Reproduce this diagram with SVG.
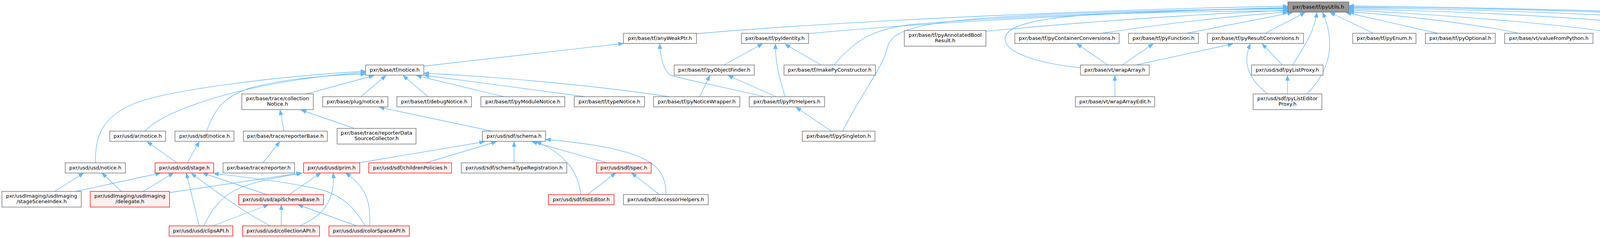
<svg xmlns="http://www.w3.org/2000/svg" width="5168" height="608" viewBox="0 0 5168 608">
<style>
.n rect{fill:#ffffff;stroke:#666666;stroke-width:1.33}
.r rect{fill:#fff0f0;stroke:#ff0000;stroke-width:1.33}
.root rect{fill:#999999;stroke:#666666;stroke-width:1.33}
text{font-family:"DejaVu Sans","Liberation Sans",sans-serif;font-size:13px;text-anchor:middle;fill:#000000}
.e path{fill:none;stroke:#63b8ff;stroke-width:1.33;marker-end:url(#ah)}
</style>
<defs>
<marker id="ah" markerUnits="userSpaceOnUse" markerWidth="14" markerHeight="12" refX="13" refY="5.5" orient="auto">
<path d="M0,0.5 L13,5.5 L0,10.5 z" fill="#63b8ff" stroke="#63b8ff" stroke-width="1"/>
</marker>
</defs>
<rect x="0" y="0" width="5168" height="608" fill="#ffffff"/>
<g class="e" id="edges">
<path d="M1783,86 C2200,50 2900,22 3297,16"/>
<path d="M2068,86 C2400,55 2900,30 3297,19"/>
<path d="M2135,166 C2190,100 2240,72 2340,62 C2600,40 3000,26 3297,21"/>
<path d="M2157,335 C2210,230 2262,170 2272,120 C2285,65 2400,50 2700,36 C2950,26 3150,23 3297,23"/>
<path d="M2524,80 C2850,48 3150,33 3297,26"/>
<path d="M2766,173 C2640,160 2573,130 2573,100 C2573,60 2680,45 2800,37 C3000,30 3200,28 3297,28"/>
<path d="M2821,85 C2950,65 3150,40 3297,31"/>
<path d="M3038,85 L3309,32"/>
<path d="M3239,85 L3341,32"/>
<path d="M3309,166 C3345,110 3366,75 3371,32"/>
<path d="M3346,240 C3405,180 3420,110 3386,32"/>
<path d="M3516,85 L3405,32"/>
<path d="M3680,85 L3446,32"/>
<path d="M3887,85 C3800,65 3600,40 3453,30"/>
<path d="M4135,85 C4050,68 3750,40 3453,26"/>
<path d="M4377,85 C4200,50 3800,30 3453,23"/>
<path d="M4603,85 C4400,45 3900,25 3453,20"/>
<path d="M4805,85 C4650,45 4000,22 3453,18"/>
<path d="M5034,85 C4960,60 4300,25 3453,15"/>
<path d="M1853,166 L1952,112"/>
<path d="M2102,166 L2010,113"/>
<path d="M2010,247 C1995,200 1985,160 1985,112"/>
<path d="M1791,247 L1817,193"/>
<path d="M1987,247 L1864,193"/>
<path d="M1085,169 L1596,111"/>
<path d="M1957,247 C1850,222 1760,205 1716,192 C1700,180 1690,150 1689,112"/>
<path d="M2128,335 L2038,274"/>
<path d="M2854,247 L2854,193"/>
<path d="M2836,166 L2757,112"/>
<path d="M2873,166 L2952,112"/>
<path d="M2908,166 L3156,112"/>
<path d="M3283,166 L3231,112"/>
<path d="M3245,240 C3195,200 3180,160 3201,112"/>
<path d="M3296,240 L3296,193"/>
<path d="M244,416 C244,345 262,300 340,266 C420,232 700,195 936,182"/>
<path d="M371,335 C420,280 640,205 936,185"/>
<path d="M529,335 C548,280 575,245 640,225 C720,202 840,192 936,189"/>
<path d="M784,240 L957,193"/>
<path d="M924,247 L988,193"/>
<path d="M1096,247 L1032,193"/>
<path d="M1290,247 L1066,193"/>
<path d="M1498,247 L1085,192"/>
<path d="M1713,247 C1500,215 1250,195 1085,187"/>
<path d="M1260,335 L971,274"/>
<path d="M727,335 L717,281"/>
<path d="M907,328 L771,281"/>
<path d="M673,416 L716,362"/>
<path d="M453,416 L377,362"/>
<path d="M480,416 L510,362"/>
<path d="M140,489 L214,442"/>
<path d="M311,489 L261,442"/>
<path d="M194,489 L411,442"/>
<path d="M366,489 L444,442"/>
<path d="M510,577 L477,442"/>
<path d="M692,577 C640,550 580,510 490,443"/>
<path d="M683,497 L519,442"/>
<path d="M935,577 C910,535 880,500 820,484 C720,462 620,452 547,443"/>
<path d="M434,492 L771,442"/>
<path d="M522,577 C540,535 570,500 610,482 C660,460 720,452 774,442"/>
<path d="M740,497 L821,442"/>
<path d="M767,577 C830,550 858,510 853,442"/>
<path d="M946,577 C950,520 940,480 885,442"/>
<path d="M545,577 L687,523"/>
<path d="M720,577 L720,523"/>
<path d="M913,577 L763,523"/>
<path d="M918,416 L1240,362"/>
<path d="M1090,416 L1271,362"/>
<path d="M1316,416 L1316,362"/>
<path d="M1554,416 L1362,362"/>
<path d="M1487,497 C1480,440 1450,395 1373,362"/>
<path d="M1705,497 C1705,420 1660,380 1397,356"/>
<path d="M1504,497 L1576,442"/>
<path d="M1688,497 L1617,442"/>
</g>
<g id="n0" class="root"><rect x="3297" y="5" width="156" height="26"/><text x="3375" y="21.5">pxr/base/tf/pyUtils.h</text></g>
<g id="n1" class="n"><rect x="1596" y="85" width="187" height="26"/><text x="1689.5" y="101.5">pxr/base/tf/anyWeakPtr.h</text></g>
<g id="n2" class="n"><rect x="1898" y="85" width="172" height="26"/><text x="1984" y="101.5">pxr/base/tf/pyIdentity.h</text></g>
<g id="n3" class="n"><rect x="2315" y="78" width="209" height="40"/><text x="2419.5" y="93.5">pxr/base/tf/pyAnnotatedBool</text><text x="2419.5" y="108">Result.h</text></g>
<g id="n4" class="n"><rect x="2598" y="85" width="267" height="26"/><text x="2731.5" y="101.5">pxr/base/tf/pyContainerConversions.h</text></g>
<g id="n5" class="n"><rect x="2889" y="85" width="179" height="26"/><text x="2978.5" y="101.5">pxr/base/tf/pyFunction.h</text></g>
<g id="n6" class="n"><rect x="3091" y="85" width="246" height="26"/><text x="3214" y="101.5">pxr/base/tf/pyResultConversions.h</text></g>
<g id="n7" class="n"><rect x="3463" y="85" width="162" height="26"/><text x="3544" y="101.5">pxr/base/tf/pyEnum.h</text></g>
<g id="n8" class="n"><rect x="3649" y="85" width="179" height="26"/><text x="3738.5" y="101.5">pxr/base/tf/pyOptional.h</text></g>
<g id="n9" class="n"><rect x="3852" y="85" width="226" height="26"/><text x="3965" y="101.5">pxr/base/vt/valueFromPython.h</text></g>
<g id="n10" class="n"><rect x="4101" y="85" width="216" height="26"/><text x="4209" y="101.5">pxr/usd/sdf/pyChildrenProxy.h</text></g>
<g id="n11" class="n"><rect x="4340" y="85" width="212" height="26"/><text x="4446" y="101.5">pxr/usd/sdf/pyChildrenView.h</text></g>
<g id="n12" class="n"><rect x="4575" y="85" width="167" height="26"/><text x="4658.5" y="101.5">pxr/usd/sdf/pyListOp.h</text></g>
<g id="n13" class="n"><rect x="4765" y="85" width="215" height="26"/><text x="4872.5" y="101.5">pxr/usd/sdf/pyMapEditProxy.h</text></g>
<g id="n14" class="n"><rect x="5004" y="85" width="159" height="26"/><text x="5083.5" y="101.5">pxr/usd/sdf/pySpec.h</text></g>
<g id="n15" class="n"><rect x="936" y="166" width="149" height="26"/><text x="1010.5" y="182.5">pxr/base/tf/notice.h</text></g>
<g id="n16" class="n"><rect x="1726" y="166" width="205" height="26"/><text x="1828.5" y="182.5">pxr/base/tf/pyObjectFinder.h</text></g>
<g id="n17" class="n"><rect x="2007" y="166" width="234" height="26"/><text x="2124" y="182.5">pxr/base/tf/makePyConstructor.h</text></g>
<g id="n18" class="n"><rect x="2766" y="166" width="176" height="26"/><text x="2854" y="182.5">pxr/base/vt/wrapArray.h</text></g>
<g id="n19" class="n"><rect x="3204" y="166" width="183" height="26"/><text x="3295.5" y="182.5">pxr/usd/sdf/pyListProxy.h</text></g>
<g id="n20" class="n"><rect x="619" y="240" width="183" height="40"/><text x="710.5" y="255.5">pxr/base/trace/collection</text><text x="710.5" y="270">Notice.h</text></g>
<g id="n21" class="n"><rect x="826" y="247" width="167" height="26"/><text x="909.5" y="263.5">pxr/base/plug/notice.h</text></g>
<g id="n22" class="n"><rect x="1016" y="247" width="191" height="26"/><text x="1111.5" y="263.5">pxr/base/tf/debugNotice.h</text></g>
<g id="n23" class="n"><rect x="1231" y="247" width="215" height="26"/><text x="1338.5" y="263.5">pxr/base/tf/pyModuleNotice.h</text></g>
<g id="n24" class="n"><rect x="1470" y="247" width="180" height="26"/><text x="1560" y="263.5">pxr/base/tf/typeNotice.h</text></g>
<g id="n25" class="n"><rect x="1673" y="247" width="221" height="26"/><text x="1783.5" y="263.5">pxr/base/tf/pyNoticeWrapper.h</text></g>
<g id="n26" class="n"><rect x="1918" y="247" width="193" height="26"/><text x="2014.5" y="263.5">pxr/base/tf/pyPtrHelpers.h</text></g>
<g id="n27" class="n"><rect x="2753" y="247" width="203" height="26"/><text x="2854.5" y="263.5">pxr/base/vt/wrapArrayEdit.h</text></g>
<g id="n28" class="n"><rect x="3208" y="240" width="176" height="40"/><text x="3296" y="255.5">pxr/usd/sdf/pyListEditor</text><text x="3296" y="270">Proxy.h</text></g>
<g id="n29" class="n"><rect x="281" y="335" width="143" height="26"/><text x="352.5" y="351.5">pxr/usd/ar/notice.h</text></g>
<g id="n30" class="n"><rect x="448" y="335" width="151" height="26"/><text x="523.5" y="351.5">pxr/usd/sdf/notice.h</text></g>
<g id="n31" class="n"><rect x="623" y="335" width="215" height="26"/><text x="730.5" y="351.5">pxr/base/trace/reporterBase.h</text></g>
<g id="n32" class="n"><rect x="863" y="328" width="202" height="40"/><text x="964" y="343.5">pxr/base/trace/reporterData</text><text x="964" y="358">SourceCollector.h</text></g>
<g id="n33" class="n"><rect x="1235" y="335" width="162" height="26"/><text x="1316" y="351.5">pxr/usd/sdf/schema.h</text></g>
<g id="n34" class="n"><rect x="2054" y="335" width="186" height="26"/><text x="2147" y="351.5">pxr/base/tf/pySingleton.h</text></g>
<g id="n35" class="n"><rect x="167" y="416" width="154" height="26"/><text x="244" y="432.5">pxr/usd/usd/notice.h</text></g>
<g id="n36" class="r"><rect x="397" y="416" width="150" height="26"/><text x="472" y="432.5">pxr/usd/usd/stage.h</text></g>
<g id="n37" class="n"><rect x="571" y="416" width="183" height="26"/><text x="662.5" y="432.5">pxr/base/trace/reporter.h</text></g>
<g id="n38" class="r"><rect x="777" y="416" width="144" height="26"/><text x="849" y="432.5">pxr/usd/usd/prim.h</text></g>
<g id="n39" class="r"><rect x="944" y="416" width="212" height="26"/><text x="1050" y="432.5">pxr/usd/sdf/childrenPolicies.h</text></g>
<g id="n40" class="n"><rect x="1181" y="416" width="270" height="26"/><text x="1316" y="432.5">pxr/usd/sdf/schemaTypeRegistration.h</text></g>
<g id="n41" class="r"><rect x="1527" y="416" width="140" height="26"/><text x="1597" y="432.5">pxr/usd/sdf/spec.h</text></g>
<g id="n42" class="n"><rect x="5" y="489" width="203" height="40"/><text x="106.5" y="504.5">pxr/usdImaging/usdImaging</text><text x="106.5" y="519">/stageSceneIndex.h</text></g>
<g id="n43" class="r"><rect x="231" y="489" width="203" height="40"/><text x="332.5" y="504.5">pxr/usdImaging/usdImaging</text><text x="332.5" y="519">/delegate.h</text></g>
<g id="n44" class="r"><rect x="611" y="497" width="217" height="26"/><text x="719.5" y="513.5">pxr/usd/usd/apiSchemaBase.h</text></g>
<g id="n45" class="r"><rect x="1404" y="497" width="168" height="26"/><text x="1488" y="513.5">pxr/usd/sdf/listEditor.h</text></g>
<g id="n46" class="n"><rect x="1596" y="497" width="217" height="26"/><text x="1704.5" y="513.5">pxr/usd/sdf/accessorHelpers.h</text></g>
<g id="n47" class="r"><rect x="433" y="577" width="163" height="26"/><text x="514.5" y="593.5">pxr/usd/usd/clipsAPI.h</text></g>
<g id="n48" class="r"><rect x="621" y="577" width="197" height="26"/><text x="719.5" y="593.5">pxr/usd/usd/collectionAPI.h</text></g>
<g id="n49" class="r"><rect x="842" y="577" width="206" height="26"/><text x="945" y="593.5">pxr/usd/usd/colorSpaceAPI.h</text></g>
</svg>
